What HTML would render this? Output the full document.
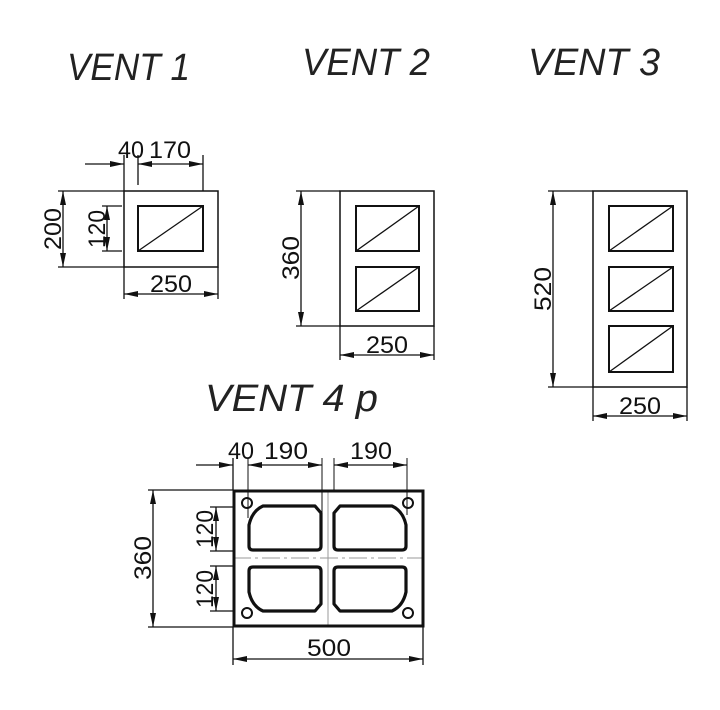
<!DOCTYPE html>
<html><head><meta charset="utf-8"><style>
html,body{margin:0;padding:0;background:#fff;}
svg{display:block;}
.t{font-family:"Liberation Sans",sans-serif;font-style:italic;font-size:38px;fill:#222;}
.d{font-family:"Liberation Sans",sans-serif;font-size:24px;fill:#111;}
</style></head><body>
<svg width="720" height="710" viewBox="0 0 720 710" xmlns="http://www.w3.org/2000/svg">
<defs>
<marker id="a" viewBox="0 0 14 6" refX="14" refY="3" markerWidth="14" markerHeight="6" markerUnits="userSpaceOnUse" orient="auto-start-reverse">
<path d="M0,0 L14,3 L0,6 z" fill="#111"/></marker>
</defs>
<text class="t" x="67" y="80" textLength="123" lengthAdjust="spacingAndGlyphs">VENT 1</text>
<text class="t" x="302" y="75" textLength="128" lengthAdjust="spacingAndGlyphs">VENT 2</text>
<text class="t" x="528" y="75" textLength="132" lengthAdjust="spacingAndGlyphs">VENT 3</text>
<text class="t" x="205" y="411" textLength="173" lengthAdjust="spacingAndGlyphs">VENT 4 p</text>

<g stroke="#111" fill="none" stroke-width="1.3">
<!-- VENT 1 -->
<rect x="124" y="191" width="94" height="76" stroke-width="1.5"/>
<rect x="138" y="206" width="65" height="45" stroke-width="2"/>
<line x1="138" y1="251" x2="203" y2="206"/>
<line x1="85" y1="164" x2="124" y2="164" marker-end="url(#a)"/>
<line x1="138" y1="164" x2="203" y2="164" marker-start="url(#a)" marker-end="url(#a)"/>
<line x1="124" y1="155" x2="124" y2="191"/>
<line x1="138" y1="155" x2="138" y2="185"/>
<line x1="203" y1="155" x2="203" y2="191"/>
<line x1="63" y1="191" x2="63" y2="267" marker-start="url(#a)" marker-end="url(#a)"/>
<line x1="58" y1="191" x2="124" y2="191"/>
<line x1="58" y1="267" x2="124" y2="267"/>
<line x1="107" y1="206" x2="107" y2="251" marker-start="url(#a)" marker-end="url(#a)"/>
<line x1="102" y1="206" x2="122" y2="206"/>
<line x1="102" y1="251" x2="122" y2="251"/>
<line x1="124" y1="294" x2="218" y2="294" marker-start="url(#a)" marker-end="url(#a)"/>
<line x1="124" y1="267" x2="124" y2="299"/>
<line x1="218" y1="267" x2="218" y2="299"/>

<!-- VENT 2 -->
<rect x="340" y="191" width="94" height="135" stroke-width="1.5"/>
<rect x="356" y="206" width="63" height="45" stroke-width="2"/>
<line x1="356" y1="251" x2="419" y2="206"/>
<rect x="356" y="267" width="63" height="44" stroke-width="2"/>
<line x1="356" y1="311" x2="419" y2="267"/>
<line x1="301" y1="191" x2="301" y2="326" marker-start="url(#a)" marker-end="url(#a)"/>
<line x1="296" y1="191" x2="340" y2="191"/>
<line x1="296" y1="326" x2="340" y2="326"/>
<line x1="340" y1="355" x2="434" y2="355" marker-start="url(#a)" marker-end="url(#a)"/>
<line x1="340" y1="326" x2="340" y2="360"/>
<line x1="434" y1="326" x2="434" y2="360"/>

<!-- VENT 3 -->
<rect x="593" y="191" width="94" height="196" stroke-width="1.5"/>
<rect x="609" y="206" width="64" height="45" stroke-width="2"/>
<line x1="609" y1="251" x2="673" y2="206"/>
<rect x="609" y="267" width="64" height="44" stroke-width="2"/>
<line x1="609" y1="311" x2="673" y2="267"/>
<rect x="609" y="326" width="64" height="46" stroke-width="2"/>
<line x1="609" y1="372" x2="673" y2="326"/>
<line x1="553" y1="191" x2="553" y2="387" marker-start="url(#a)" marker-end="url(#a)"/>
<line x1="548" y1="191" x2="593" y2="191"/>
<line x1="548" y1="387" x2="593" y2="387"/>
<line x1="593" y1="416" x2="687" y2="416" marker-start="url(#a)" marker-end="url(#a)"/>
<line x1="593" y1="387" x2="593" y2="421"/>
<line x1="687" y1="387" x2="687" y2="421"/>

<!-- VENT 4 -->
<line x1="328" y1="490" x2="328" y2="627" stroke="#999" stroke-width="1"/>
<line x1="233" y1="558" x2="423" y2="558" stroke="#999" stroke-width="1" stroke-dasharray="18 4 3 4"/>
<rect x="234" y="491" width="189" height="135" stroke-width="3"/>
<circle cx="247" cy="503" r="5" stroke-width="2"/>
<circle cx="408" cy="503" r="5" stroke-width="2"/>
<circle cx="247" cy="613" r="5" stroke-width="2"/>
<circle cx="408" cy="613" r="5" stroke-width="2"/>
<g stroke-width="3.2" stroke-linejoin="round">
<path d="M249,525 Q252,511 263,506 L315,506 L321,513 L321,546 Q321,550 317,550 L253,550 Q249,550 249,546 Z"/>
<path d="M406,525 Q403,511 392,506 L340,506 L334,513 L334,546 Q334,550 338,550 L402,550 Q406,550 406,546 Z"/>
<path d="M249,592 Q252,606 263,611 L315,611 L321,604 L321,571 Q321,567 317,567 L253,567 Q249,567 249,571 Z"/>
<path d="M406,592 Q403,606 392,611 L340,611 L334,604 L334,571 Q334,567 338,567 L402,567 Q406,567 406,571 Z"/>
</g>
<line x1="196" y1="465" x2="233" y2="465" marker-end="url(#a)"/>
<line x1="248" y1="465" x2="322" y2="465" marker-start="url(#a)" marker-end="url(#a)"/>
<line x1="334" y1="465" x2="407" y2="465" marker-start="url(#a)" marker-end="url(#a)"/>
<line x1="233" y1="458" x2="233" y2="490"/>
<line x1="248" y1="458" x2="248" y2="518" stroke-width="1"/>
<line x1="322" y1="458" x2="322" y2="545" stroke-width="1"/>
<line x1="334" y1="458" x2="334" y2="490" stroke-width="1"/>
<line x1="407" y1="458" x2="407" y2="515" stroke-width="1"/>
<line x1="153" y1="490" x2="153" y2="627" marker-start="url(#a)" marker-end="url(#a)"/>
<line x1="148" y1="490" x2="233" y2="490"/>
<line x1="148" y1="627" x2="233" y2="627"/>
<line x1="216" y1="507" x2="216" y2="551" marker-start="url(#a)" marker-end="url(#a)"/>
<line x1="216" y1="566" x2="216" y2="611" marker-start="url(#a)" marker-end="url(#a)"/>
<line x1="210" y1="507" x2="233" y2="507"/>
<line x1="210" y1="551" x2="233" y2="551"/>
<line x1="210" y1="566" x2="233" y2="566"/>
<line x1="210" y1="611" x2="233" y2="611"/>
<line x1="233" y1="659" x2="423" y2="659" marker-start="url(#a)" marker-end="url(#a)"/>
<line x1="233" y1="627" x2="233" y2="665"/>
<line x1="423" y1="627" x2="423" y2="665"/>
</g>

<text class="d" x="118" y="158" textLength="26" lengthAdjust="spacingAndGlyphs">40</text>
<text class="d" x="149" y="158" textLength="42" lengthAdjust="spacingAndGlyphs">170</text>
<text class="d" x="150" y="292" textLength="42" lengthAdjust="spacingAndGlyphs">250</text>
<text class="d" transform="translate(61,229) rotate(-90)" text-anchor="middle" textLength="42" lengthAdjust="spacingAndGlyphs">200</text>
<text class="d" transform="translate(105,229) rotate(-90)" text-anchor="middle" textLength="38" lengthAdjust="spacingAndGlyphs">120</text>
<text class="d" transform="translate(299,258) rotate(-90)" text-anchor="middle" textLength="44" lengthAdjust="spacingAndGlyphs">360</text>
<text class="d" x="366" y="353" textLength="42" lengthAdjust="spacingAndGlyphs">250</text>
<text class="d" transform="translate(551,289) rotate(-90)" text-anchor="middle" textLength="44" lengthAdjust="spacingAndGlyphs">520</text>
<text class="d" x="619" y="414" textLength="42" lengthAdjust="spacingAndGlyphs">250</text>
<text class="d" x="228" y="459" textLength="26" lengthAdjust="spacingAndGlyphs">40</text>
<text class="d" x="264" y="459" textLength="44" lengthAdjust="spacingAndGlyphs">190</text>
<text class="d" x="350" y="459" textLength="42" lengthAdjust="spacingAndGlyphs">190</text>
<text class="d" transform="translate(151,558) rotate(-90)" text-anchor="middle" textLength="44" lengthAdjust="spacingAndGlyphs">360</text>
<text class="d" transform="translate(213,529) rotate(-90)" text-anchor="middle" textLength="38" lengthAdjust="spacingAndGlyphs">120</text>
<text class="d" transform="translate(213,589) rotate(-90)" text-anchor="middle" textLength="38" lengthAdjust="spacingAndGlyphs">120</text>
<text class="d" x="307" y="656" textLength="44" lengthAdjust="spacingAndGlyphs">500</text>
</svg>
</body></html>
